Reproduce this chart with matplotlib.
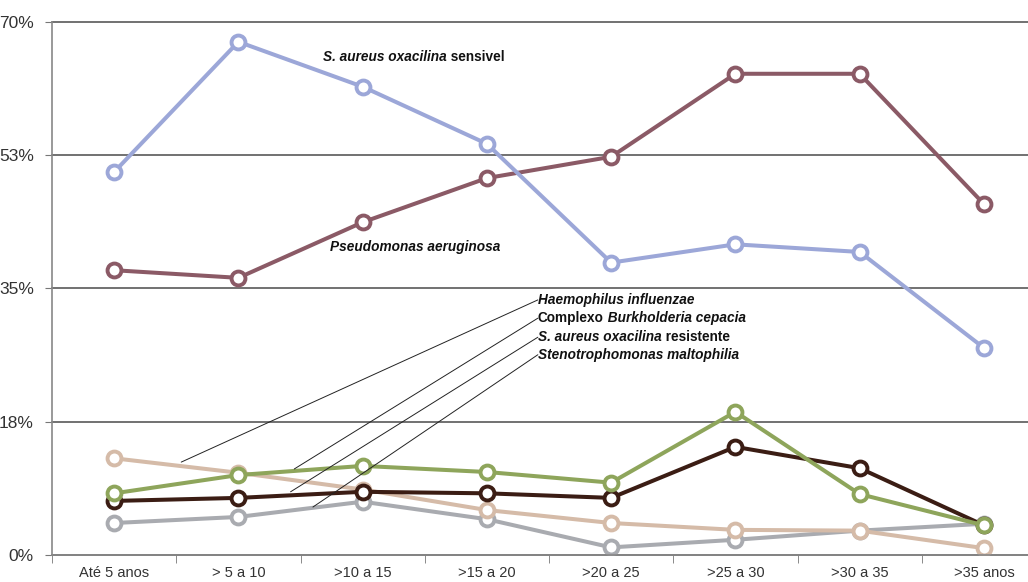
"""
plot.py - age-group distribution of isolated pathogens (line chart).
Saves out.png (about 1028x582).
"""
import numpy as np
import matplotlib
matplotlib.use("Agg")
import matplotlib.pyplot as plt

# categories and series values (%)
age_groups = ["Até 5 anos", "> 5 a 10", ">10 a 15", ">15 a 20",
              ">20 a 25", ">25 a 30", ">30 a 35", ">35 anos"]
sa_sensivel = [50.3, 67.4, 61.5, 54.0, 38.4, 40.8, 39.8, 27.2]
pseudomonas = [37.4, 36.4, 43.7, 49.5, 52.3, 63.2, 63.2, 46.1]
haemophilus = [12.7, 10.8, 8.6, 5.9, 4.2, 3.3, 3.2, 0.9]
burkholderia = [8.1, 10.5, 11.7, 10.9, 9.5, 18.8, 8.0, 3.9]
sa_resistente = [7.1, 7.5, 8.3, 8.1, 7.5, 14.2, 11.4, 3.9]
stenotrophomonas = [4.2, 5.0, 7.0, 4.7, 1.0, 2.0, 3.2, 4.1]

y_ticks = [0, 17.5, 35, 52.5, 70]
y_tick_labels = ["0%", "18%", "35%", "53%", "70%"]

NARROW = ["Liberation Sans Narrow", "DejaVu Sans Condensed", "Liberation Sans", "DejaVu Sans"]
LABEL_FONT = ["Liberation Sans", "DejaVu Sans"]


def mixed_label(ax, pieces, xy, size=9.8, leader_to=None):
    """Write a label made of (text, italic) pieces one after another,
    optionally with a thin leader line from its left edge to a point."""
    kw = dict(fontsize=size, fontweight="bold", family=LABEL_FONT,
              va="center", ha="left", color="#111111")
    if leader_to is not None:
        ax.annotate("", xy=leader_to, xytext=xy,
                    arrowprops=dict(arrowstyle="-", lw=0.7, color="#222222",
                                    shrinkA=0, shrinkB=0))
    text, italic = pieces[0]
    prev = ax.text(xy[0], xy[1], text,
                   fontstyle="italic" if italic else "normal", **kw)
    for text, italic in pieces[1:]:
        prev = ax.annotate(text, xy=(1, 0.5), xycoords=prev,
                           fontstyle="italic" if italic else "normal", **kw)
    return prev


fig = plt.figure(figsize=(10.28, 5.82), dpi=100)
ax = fig.add_axes([0.0506, 0.0464, 0.9494, 0.9158])

x = np.arange(len(age_groups))
series = [
    (stenotrophomonas, "#a9abb0"),
    (haemophilus, "#d5bba8"),
    (sa_resistente, "#3b1d14"),
    (burkholderia, "#8ea55b"),
    (pseudomonas, "#8b5a66"),
    (sa_sensivel, "#9ca7d8"),
]
for values, color in series:
    ax.plot(x, values, color=color, lw=2.9, marker="o", markersize=10,
            markerfacecolor="white", markeredgecolor=color, markeredgewidth=2.8,
            solid_joinstyle="round")

ax.set_xlim(-0.5, 7.355)
ax.set_ylim(0, 70)

# gridlines at the y ticks
ax.set_yticks(y_ticks)
ax.set_yticklabels(y_tick_labels)
ax.yaxis.grid(True, color="#4a4a4a", lw=1.1)
ax.set_axisbelow(True)
for gl in ax.get_ygridlines():
    gl.set_clip_on(False)

ax.set_xticks(x)
ax.set_xticklabels(age_groups)
ax.set_xticks(np.arange(-0.5, 7.5, 1), minor=True)
ax.tick_params(axis="x", which="major", length=0, pad=8)
ax.tick_params(axis="x", which="minor", length=6, color="#777777", direction="out")
ax.tick_params(axis="y", length=5, color="#777777", pad=8)
for lbl in ax.get_xticklabels() + ax.get_yticklabels():
    lbl.set_family(NARROW)
    lbl.set_color("#333333")
for lbl in ax.get_xticklabels():
    lbl.set_fontsize(10.5)
for lbl in ax.get_yticklabels():
    lbl.set_fontsize(12.5)

for side in ["top", "right"]:
    ax.spines[side].set_visible(False)
for side in ["left", "bottom"]:
    ax.spines[side].set_color("#888888")
    ax.spines[side].set_linewidth(1.2)

# series labels
mixed_label(ax, [("S. aureus oxacilina", True), (" sensivel", False)], (1.68, 65.4))
mixed_label(ax, [("Pseudomonas aeruginosa", True)], (1.74, 40.5))
mixed_label(ax, [("Haemophilus influenzae", True)], (3.41, 33.5),
            leader_to=(0.54, 12.2))
mixed_label(ax, [("Complexo", False), (" Burkholderia cepacia", True)], (3.41, 31.1),
            leader_to=(1.45, 11.3))
mixed_label(ax, [("S. aureus oxacilina", True), (" resistente", False)], (3.41, 28.6),
            leader_to=(1.42, 8.3))
mixed_label(ax, [("Stenotrophomonas maltophilia", True)], (3.41, 26.3),
            leader_to=(1.60, 6.3))

fig.savefig("out.png", dpi=100)
